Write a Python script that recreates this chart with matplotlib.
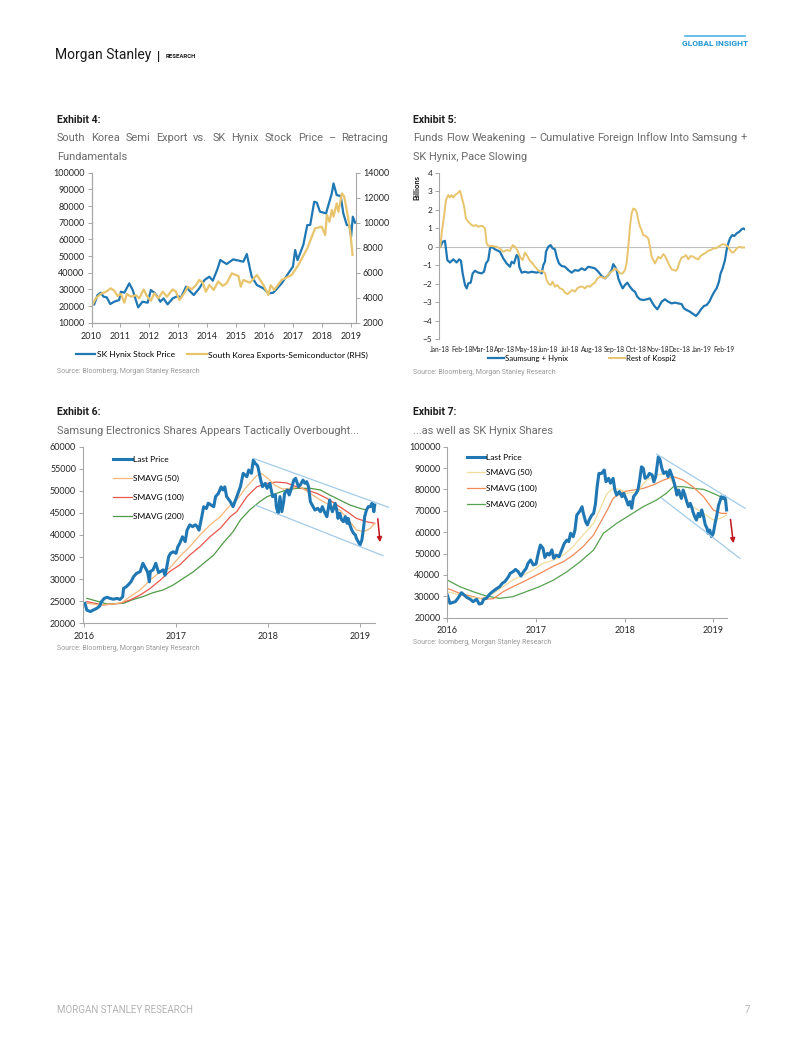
import numpy as np
import pandas as pd
import matplotlib.pyplot as plt
from matplotlib.lines import Line2D

W, H = 802, 1037

BLUE = '#1f77b4'
GOLD = '#e8c46c'
AXIS = '#a6a6a6'
TXT = '#262626'
CHAN = '#a3cbe8'
ARROW = '#c4161c'

# ---- Exhibit 4: SK Hynix price (LHS) vs Korea semi exports (RHS)
ex4_hynix = [(2010.00, 22600), (2010.09, 20800), (2010.21, 26600), (2010.32, 28000), (2010.42, 25600),
             (2010.53, 25200), (2010.65, 21200), (2010.79, 22600), (2010.96, 23600), (2011.02, 28600),
             (2011.14, 28000), (2011.31, 33600), (2011.43, 29600), (2011.52, 24600), (2011.62, 19200),
             (2011.77, 22600), (2011.95, 22000), (2012.06, 29600), (2012.18, 28000), (2012.29, 25600),
             (2012.39, 22600), (2012.50, 24600), (2012.64, 21000), (2012.82, 24600), (2012.99, 26000),
             (2013.11, 25200), (2013.28, 31600), (2013.40, 29200), (2013.55, 26600), (2013.74, 30600),
             (2013.92, 35600), (2014.09, 37600), (2014.21, 35200), (2014.38, 42600), (2014.47, 47600),
             (2014.69, 45200), (2014.92, 48000), (2015.27, 46600), (2015.39, 51200), (2015.56, 37600),
             (2015.74, 32600), (2015.97, 30600), (2016.14, 27600), (2016.31, 28000), (2016.60, 33600),
             (2016.83, 39600), (2016.99, 43600), (2017.07, 53600), (2017.15, 47600), (2017.35, 56600),
             (2017.49, 68600), (2017.59, 68600), (2017.73, 82600), (2017.82, 82000), (2017.93, 76600),
             (2018.14, 75600), (2018.34, 87600), (2018.40, 93600), (2018.51, 86600), (2018.65, 86000),
             (2018.74, 75600), (2018.86, 68600), (2018.95, 68600), (2019.01, 61600), (2019.07, 73600),
             (2019.15, 70000)]
ex4_semi = [(2010.00, 3280), (2010.15, 3950), (2010.32, 4300), (2010.50, 4480), (2010.67, 4750),
            (2010.79, 4560), (2010.90, 4140), (2011.02, 4300), (2011.14, 3600), (2011.23, 4300),
            (2011.37, 4080), (2011.54, 4200), (2011.66, 3950), (2011.81, 4670), (2011.92, 4140),
            (2012.06, 3760), (2012.18, 4350), (2012.32, 3950), (2012.47, 4480), (2012.62, 4080),
            (2012.82, 4670), (2012.93, 4480), (2013.05, 3820), (2013.22, 4350), (2013.34, 4880),
            (2013.48, 4670), (2013.63, 5020), (2013.74, 5420), (2013.86, 5200), (2013.97, 4480),
            (2014.09, 5020), (2014.24, 4620), (2014.40, 5300), (2014.55, 4950), (2014.69, 5150),
            (2014.87, 5950), (2015.10, 5740), (2015.18, 4880), (2015.27, 5420), (2015.50, 5200),
            (2015.74, 5820), (2015.97, 5000), (2016.14, 4216), (2016.22, 5000), (2016.34, 4620),
            (2016.60, 5420), (2016.95, 5820), (2017.18, 6620), (2017.49, 7950), (2017.76, 9550),
            (2017.99, 9680), (2018.11, 9020), (2018.17, 10620), (2018.26, 10080), (2018.34, 11020),
            (2018.40, 10480), (2018.51, 11550), (2018.57, 10880), (2018.69, 12350), (2018.77, 12100),
            (2018.88, 10750), (2018.98, 9280), (2019.06, 7420)]

# ---- Exhibit 5: cumulative foreign inflow, days since 1 Jan 2018, USD bn
ex5_samsung_hynix = [(0, 0.00), (3.3, 0.27), (6.5, 0.32), (9.8, -0.72), (13.5, -0.85), (18.2, -0.68),
                     (22.8, -0.85), (26.5, -0.68), (28.9, -0.76), (31.2, -1.44), (34.5, -2.07),
                     (36.8, -2.25), (39.1, -1.98), (42.4, -1.94), (45.2, -1.44), (48.4, -1.30),
                     (53.1, -1.40), (57.7, -1.44), (61.0, -1.35), (63.8, -0.90), (67.0, -0.72),
                     (69.4, -0.09), (71.7, 0.00), (76.4, -0.14), (83.3, -0.27), (88.0, -0.63),
                     (92.6, -0.90), (97.3, -1.08), (99.6, -0.81), (102.9, -0.90), (106.6, -0.45),
                     (108.9, -0.54), (110.3, -1.08), (113.6, -1.40), (118.2, -1.35), (122.9, -1.40),
                     (127.6, -1.35), (134.5, -1.40), (138.3, -1.35), (141.5, -1.44), (143.9, -0.99),
                     (146.2, -0.81), (147.6, -0.27), (150.8, 0.00), (154.1, 0.09), (156.9, -0.09),
                     (160.1, -0.14), (162.5, -0.54), (165.7, -0.90), (169.5, -1.04), (174.1, -1.08),
                     (178.8, -1.26), (183.4, -1.40), (188.1, -1.26), (192.7, -1.30), (197.4, -1.17),
                     (202.0, -1.26), (206.7, -1.08), (211.4, -1.12), (216.0, -1.17), (220.7, -1.35),
                     (225.3, -1.58), (230.0, -1.71), (234.6, -1.53), (239.3, -1.26), (241.6, -0.94),
                     (243.9, -1.08), (246.3, -1.26), (248.6, -1.71), (250.9, -1.94), (254.7, -2.25),
                     (257.9, -2.07), (261.2, -1.94), (264.9, -2.16), (268.6, -2.34), (271.9, -2.43),
                     (275.1, -2.70), (278.9, -2.84), (283.5, -2.88), (288.2, -2.84), (292.8, -2.79),
                     (296.6, -3.06), (299.8, -3.24), (303.1, -3.38), (305.9, -3.20), (309.1, -2.97),
                     (313.8, -2.84), (318.4, -2.97), (323.1, -3.06), (327.7, -3.02), (332.4, -3.06),
                     (337.1, -3.10), (340.3, -3.33), (344.1, -3.42), (348.7, -3.51), (353.4, -3.64),
                     (357.1, -3.74), (360.3, -3.60), (364.1, -3.38), (368.2, -3.20), (372.0, -3.15),
                     (375.7, -2.97), (379.0, -2.70), (382.7, -2.43), (385.9, -2.25), (389.2, -1.89),
                     (391.5, -1.44), (394.3, -1.17), (397.6, -0.72), (399.9, -0.18), (402.2, 0.18),
                     (404.6, 0.45), (407.8, 0.63), (410.6, 0.58), (413.9, 0.72), (417.6, 0.81),
                     (420.9, 0.94), (423.2, 0.99), (425.5, 0.94)]
ex5_rest_kospi2 = [(0, 0.00), (1.9, 0.72), (5.1, 1.62), (7.9, 2.52), (11.2, 2.79), (13.5, 2.66),
                   (15.8, 2.79), (18.2, 2.66), (20.5, 2.79), (23.7, 2.88), (27.5, 3.02), (29.8, 2.70),
                   (33.1, 2.20), (35.8, 1.53), (39.1, 1.35), (42.4, 1.22), (46.1, 1.12), (49.8, 1.17),
                   (53.1, 1.08), (56.3, 1.12), (59.1, 1.12), (62.4, 0.99), (64.7, 0.18), (67.0, 0.05),
                   (71.7, 0.04), (78.7, 0.00), (83.3, -0.09), (88.0, -0.27), (92.6, -0.18), (97.3, -0.22),
                   (101.0, 0.09), (104.3, 0.00), (107.5, -0.18), (111.3, -0.54), (115.0, -0.72),
                   (118.2, -0.32), (121.5, -0.50), (125.2, -0.76), (129.0, -0.90), (132.2, -1.08),
                   (135.5, -1.22), (139.2, -1.35), (142.9, -1.30), (146.2, -1.44), (148.5, -1.80),
                   (150.8, -1.98), (154.1, -2.07), (156.9, -1.89), (160.1, -2.16), (163.4, -2.07),
                   (167.1, -2.25), (170.9, -2.30), (174.1, -2.48), (177.8, -2.56), (181.1, -2.43),
                   (184.8, -2.34), (188.1, -2.43), (191.3, -2.25), (195.1, -2.16), (198.8, -2.16),
                   (202.0, -2.25), (205.3, -2.12), (209.0, -2.16), (212.8, -2.02), (216.0, -1.94),
                   (219.3, -1.71), (223.0, -1.62), (226.7, -1.66), (230.0, -1.71), (233.2, -1.58),
                   (237.0, -1.40), (240.7, -1.30), (243.9, -1.17), (247.2, -1.26), (250.9, -1.44),
                   (254.7, -1.44), (257.9, -1.26), (260.2, -0.90), (262.6, 0.00), (264.9, 1.08),
                   (267.2, 1.80), (269.6, 2.07), (271.9, 2.02), (274.2, 1.89), (276.5, 1.44),
                   (278.9, 1.08), (281.2, 0.90), (283.5, 0.63), (286.8, 0.58), (290.5, 0.45),
                   (292.8, 0.00), (295.2, -0.54), (297.5, -0.72), (299.8, -0.90), (302.1, -0.72),
                   (304.5, -0.54), (307.7, -0.63), (311.5, -0.40), (313.8, -0.50), (316.1, -0.68),
                   (319.8, -0.99), (323.1, -1.22), (326.4, -1.26), (329.1, -1.30), (331.5, -1.17),
                   (333.8, -0.86), (337.1, -0.58), (340.3, -0.54), (343.1, -0.45), (346.4, -0.68),
                   (349.6, -0.50), (353.4, -0.54), (357.1, -0.63), (360.3, -0.68), (363.6, -0.50),
                   (367.3, -0.40), (371.0, -0.32), (374.3, -0.22), (377.6, -0.18), (381.3, -0.09),
                   (385.0, -0.09), (388.3, 0.00), (392.0, 0.09), (395.3, 0.14), (399.0, 0.09),
                   (402.2, 0.00), (404.6, -0.18), (407.8, -0.32), (410.6, -0.27), (413.9, -0.09),
                   (417.6, 0.00), (420.9, -0.04), (425.5, -0.04)]

# ---- Exhibit 6: Samsung Electronics
ex6_price = [(2016.01, 24500), (2016.03, 23000), (2016.07, 22650), (2016.10, 23000), (2016.14, 23400),
             (2016.17, 23900), (2016.19, 24900), (2016.22, 25650), (2016.25, 25900), (2016.28, 25650),
             (2016.32, 25450), (2016.36, 25650), (2016.39, 25400), (2016.42, 26000), (2016.43, 27900),
             (2016.46, 28300), (2016.48, 28700), (2016.51, 29400), (2016.54, 30600), (2016.57, 31300),
             (2016.61, 31700), (2016.64, 33600), (2016.66, 32800), (2016.69, 31700), (2016.71, 29400),
             (2016.72, 31700), (2016.75, 32100), (2016.78, 33600), (2016.81, 31500), (2016.83, 31700),
             (2016.86, 32100), (2016.88, 30900), (2016.90, 32800), (2016.92, 35100), (2016.94, 35850),
             (2016.97, 36200), (2017.00, 35850), (2017.02, 37350), (2017.04, 38100), (2017.07, 39600),
             (2017.10, 38500), (2017.12, 41100), (2017.15, 42300), (2017.18, 41900), (2017.21, 42300),
             (2017.23, 41900), (2017.25, 41100), (2017.28, 44150), (2017.30, 46400), (2017.33, 46000),
             (2017.35, 47200), (2017.38, 46800), (2017.41, 46400), (2017.43, 48700), (2017.46, 49400),
             (2017.49, 50900), (2017.51, 50200), (2017.53, 50900), (2017.55, 48700), (2017.59, 47550),
             (2017.62, 46420), (2017.66, 48680), (2017.70, 50940), (2017.73, 53960), (2017.77, 53210),
             (2017.79, 54720), (2017.82, 53960), (2017.84, 56980), (2017.86, 56230), (2017.88, 55850),
             (2017.89, 55470), (2017.92, 52450), (2017.94, 50940), (2017.97, 51700), (2017.99, 50570),
             (2018.02, 51700), (2018.05, 48680), (2018.08, 49060), (2018.09, 46420), (2018.11, 44910),
             (2018.13, 48680), (2018.15, 45280), (2018.17, 47550), (2018.18, 49430), (2018.21, 50190),
             (2018.23, 49060), (2018.26, 50940), (2018.28, 52450), (2018.30, 52830), (2018.33, 50940),
             (2018.35, 51320), (2018.38, 52450), (2018.40, 51700), (2018.42, 52080), (2018.44, 50940),
             (2018.46, 47550), (2018.49, 46420), (2018.51, 45660), (2018.54, 46040), (2018.57, 45280),
             (2018.59, 46420), (2018.62, 44910), (2018.64, 44150), (2018.67, 47920), (2018.68, 46420),
             (2018.70, 45280), (2018.73, 47170), (2018.75, 45280), (2018.76, 43770), (2018.78, 44910),
             (2018.80, 43400), (2018.82, 43020), (2018.84, 44150), (2018.86, 42640), (2018.87, 43770),
             (2018.89, 42260), (2018.91, 41130), (2018.93, 40380), (2018.95, 40000), (2018.96, 39250),
             (2018.98, 38490), (2019.00, 37740), (2019.02, 38870), (2019.04, 41890), (2019.05, 44150),
             (2019.07, 45660), (2019.09, 46420), (2019.11, 46420), (2019.13, 47170), (2019.14, 46420),
             (2019.15, 45280), (2019.16, 46790)]
ex6_sma50 = [(2016.03, 24530), (2016.17, 24150), (2016.32, 24380), (2016.41, 24680), (2016.50, 26040),
             (2016.61, 27550), (2016.72, 29810), (2016.83, 31700), (2016.93, 32450), (2017.04, 35090),
             (2017.15, 37360), (2017.26, 40000), (2017.37, 42260), (2017.48, 44150), (2017.59, 46790),
             (2017.66, 47920), (2017.77, 51000), (2017.88, 53500), (2017.93, 53900), (2018.00, 52800),
             (2018.08, 51200), (2018.16, 50400), (2018.25, 50600), (2018.35, 50900), (2018.46, 49400),
             (2018.57, 47900), (2018.67, 46800), (2018.78, 45660), (2018.89, 43000), (2018.96, 41130),
             (2019.04, 40750), (2019.11, 41500), (2019.16, 42640)]
ex6_sma100 = [(2016.03, 24910), (2016.21, 24150), (2016.39, 24530), (2016.50, 25280), (2016.61, 26400),
              (2016.72, 27920), (2016.83, 29810), (2016.93, 31700), (2017.04, 33210), (2017.15, 35470),
              (2017.26, 37360), (2017.37, 39620), (2017.48, 41510), (2017.59, 44150), (2017.66, 45280),
              (2017.77, 48680), (2017.88, 50940), (2017.99, 51700), (2018.09, 52000), (2018.20, 51800),
              (2018.31, 50940), (2018.42, 50190), (2018.53, 49430), (2018.64, 48300), (2018.75, 46800),
              (2018.86, 45280), (2018.96, 43770), (2019.07, 43020), (2019.16, 42640)]
ex6_sma200 = [(2016.03, 25660), (2016.25, 24380), (2016.43, 24530), (2016.54, 25430), (2016.64, 26040),
              (2016.75, 26940), (2016.86, 27550), (2016.97, 28680), (2017.08, 30190), (2017.19, 31700),
              (2017.30, 33580), (2017.41, 35470), (2017.51, 38110), (2017.62, 40750), (2017.70, 43400),
              (2017.80, 45660), (2017.91, 47550), (2017.99, 48680), (2018.09, 49430), (2018.20, 50190),
              (2018.31, 50570), (2018.46, 50570), (2018.57, 50190), (2018.67, 49060), (2018.78, 47920),
              (2018.89, 46790), (2019.00, 46040), (2019.07, 45660)]
ex6_upper_channel = [(2017.84, 57360), (2019.31, 46270)]
ex6_lower_channel = [(2017.86, 46790), (2019.25, 35320)]
ex6_arrow = [(2019.19, 44300), (2019.22, 37740)]

# ---- Exhibit 7: SK Hynix
ex7_price = [(2016.00, 30600), (2016.03, 26700), (2016.09, 27500), (2016.12, 29100), (2016.16, 31700),
             (2016.19, 30600), (2016.22, 29500), (2016.26, 28600), (2016.29, 27500), (2016.33, 28600),
             (2016.36, 26400), (2016.39, 26700), (2016.41, 28600), (2016.44, 29100), (2016.48, 31100),
             (2016.51, 32200), (2016.56, 33700), (2016.59, 34500), (2016.62, 36100), (2016.65, 36900),
             (2016.69, 39200), (2016.71, 40800), (2016.74, 41500), (2016.77, 42600), (2016.80, 41500),
             (2016.83, 39500), (2016.86, 41500), (2016.89, 43100), (2016.91, 45400), (2016.94, 47000),
             (2016.97, 44700), (2017.00, 45100), (2017.03, 50900), (2017.05, 54000), (2017.08, 52400),
             (2017.10, 48200), (2017.13, 50100), (2017.15, 49300), (2017.18, 51700), (2017.20, 47800),
             (2017.23, 49300), (2017.26, 48500), (2017.29, 51700), (2017.32, 54800), (2017.35, 56300),
             (2017.37, 55600), (2017.39, 59500), (2017.42, 57900), (2017.44, 61000), (2017.46, 68000),
             (2017.49, 69600), (2017.52, 71900), (2017.53, 69600), (2017.56, 64900), (2017.58, 63400),
             (2017.60, 65700), (2017.63, 68000), (2017.65, 68800), (2017.67, 73000), (2017.69, 81300),
             (2017.71, 87500), (2017.74, 87500), (2017.77, 89100), (2017.79, 83600), (2017.82, 85200),
             (2017.84, 82900), (2017.87, 85200), (2017.89, 79700), (2017.91, 77400), (2017.94, 79000),
             (2017.97, 76600), (2017.99, 78200), (2018.02, 75100), (2018.04, 72700), (2018.06, 74300),
             (2018.08, 71200), (2018.10, 76600), (2018.13, 78200), (2018.15, 79700), (2018.17, 84400),
             (2018.19, 90600), (2018.21, 89900), (2018.23, 85200), (2018.26, 86000), (2018.28, 87500),
             (2018.31, 86800), (2018.33, 83600), (2018.35, 86000), (2018.38, 95300), (2018.40, 93800),
             (2018.42, 89900), (2018.44, 87500), (2018.47, 88300), (2018.49, 86000), (2018.51, 89100),
             (2018.53, 86800), (2018.55, 84400), (2018.57, 81300), (2018.59, 77400), (2018.61, 79700),
             (2018.62, 78200), (2018.64, 75800), (2018.66, 79700), (2018.68, 77400), (2018.70, 74300),
             (2018.72, 71900), (2018.74, 73500), (2018.76, 71200), (2018.77, 69600), (2018.79, 67300),
             (2018.81, 65700), (2018.83, 68800), (2018.85, 67300), (2018.87, 70400), (2018.89, 67300),
             (2018.91, 63400), (2018.93, 61800), (2018.94, 59500), (2018.96, 61000), (2018.98, 57900),
             (2019.00, 59500), (2019.02, 64100), (2019.04, 68000), (2019.06, 72700), (2019.08, 75100),
             (2019.09, 76600), (2019.11, 75800), (2019.13, 76600), (2019.14, 74300), (2019.15, 70400)]
ex7_sma50 = [(2016.00, 32180), (2016.22, 29840), (2016.37, 29060), (2016.44, 29840), (2016.52, 31400),
             (2016.63, 34520), (2016.74, 37640), (2016.86, 40000), (2016.97, 42320), (2017.08, 45440),
             (2017.20, 46990), (2017.31, 49330), (2017.42, 53230), (2017.53, 58690), (2017.65, 64140),
             (2017.72, 70500), (2017.80, 78000), (2017.87, 80500), (2017.95, 80000), (2018.02, 78200),
             (2018.14, 78950), (2018.25, 84410), (2018.36, 86750), (2018.47, 87530), (2018.55, 82850),
             (2018.66, 76620), (2018.77, 71940), (2018.89, 68820), (2019.00, 65700), (2019.08, 66480),
             (2019.15, 68040)]
ex7_sma100 = [(2016.00, 33740), (2016.14, 31400), (2016.29, 29840), (2016.41, 28600), (2016.52, 28900),
              (2016.63, 32180), (2016.74, 34520), (2016.86, 36860), (2016.97, 39200), (2017.08, 41540),
              (2017.20, 44190), (2017.31, 46220), (2017.42, 49330), (2017.53, 53230), (2017.65, 58690),
              (2017.72, 64000), (2017.80, 70000), (2017.87, 75840), (2017.98, 78950), (2018.10, 79730),
              (2018.21, 80510), (2018.32, 82070), (2018.44, 84410), (2018.55, 85970), (2018.66, 84410),
              (2018.77, 81290), (2018.89, 76620), (2019.00, 70380), (2019.09, 68820), (2019.15, 68820)]
ex7_sma200 = [(2016.00, 37640), (2016.14, 34520), (2016.29, 32180), (2016.44, 30150), (2016.59, 29060),
              (2016.74, 29840), (2016.89, 32180), (2017.04, 34520), (2017.20, 37640), (2017.35, 41540),
              (2017.50, 46220), (2017.65, 51670), (2017.76, 59470), (2017.91, 64140), (2018.06, 68040),
              (2018.21, 71940), (2018.36, 75060), (2018.47, 78170), (2018.55, 81290), (2018.66, 81290),
              (2018.77, 80510), (2018.89, 80040), (2019.00, 78170), (2019.08, 76620), (2019.15, 75060)]
ex7_upper_channel = [(2018.36, 96570), (2019.36, 71160)]
ex7_lower_channel = [(2018.42, 75840), (2019.30, 47770)]
ex7_arrow = [(2019.19, 67260), (2019.23, 53540)]

CHART_FONT = ['Lato', 'DejaVu Sans']
HEAD_FONT = ['Roboto', 'DejaVu Sans']
plt.rcParams['font.family'] = CHART_FONT

fig = plt.figure(figsize=(W / 100, H / 100), dpi=100)


def px_axes(left, top, right, bottom):
    return fig.add_axes([left / W, 1 - bottom / H, (right - left) / W, (bottom - top) / H])


def ptext(x, y, s, **kw):
    kw.setdefault('va', 'center')
    return fig.text(x / W, 1 - y / H, s, **kw)


def justify(x0, x1, y, s, **kw):
    words = s.split(' ')
    arts = [ptext(x0, y, w, **kw) for w in words]
    r = fig.canvas.get_renderer()
    widths = [a.get_window_extent(r).width for a in arts]
    gap = (x1 - x0 - sum(widths)) / (len(words) - 1)
    x = x0
    for a, w in zip(arts, widths):
        a.set_x(x / W)
        x += w + gap


def xy(pairs):
    return [p[0] for p in pairs], [p[1] for p in pairs]


def style(ax, sides, size=6.5):
    for s in ['top', 'right', 'left', 'bottom']:
        ax.spines[s].set_visible(s in sides)
        ax.spines[s].set_color(AXIS)
        ax.spines[s].set_linewidth(0.8)
    ax.tick_params(labelsize=size, length=3, width=0.7, color=AXIS, labelcolor=TXT, pad=2)


# header / footer
ptext(55, 55, 'Morgan Stanley', fontsize=10, family=HEAD_FONT, color='#1a1a1a')
ptext(157, 56, '|', fontsize=9, family=HEAD_FONT, color='#1a1a1a', weight='bold')
ptext(166, 56, 'RESEARCH', fontsize=4.3, family=HEAD_FONT, color='#1a1a1a', weight='bold')
fig.add_artist(Line2D([685 / W, 745 / W], [1 - 36 / H] * 2, color='#4fb3e3', lw=1.2))
ptext(715, 43, 'GLOBAL INSIGHT', ha='center', fontsize=6, family=HEAD_FONT, color='#1b95d3', weight='bold')
ptext(57, 1010, 'MORGAN STANLEY RESEARCH', fontsize=7, family=HEAD_FONT, color='#b3b3b3')
ptext(745, 1010, '7', fontsize=7, family=HEAD_FONT, color='#b3b3b3')

TITLE = dict(fontsize=7.6, family=HEAD_FONT, weight='bold', color='#1e1e1e')
SUB = dict(fontsize=7.9, family=HEAD_FONT, color='#6b6b6b')
SRC = dict(fontsize=5, family=HEAD_FONT, color='#9a9a9a')

ptext(57, 120, 'Exhibit 4:', **TITLE)
justify(57, 388, 138, 'South Korea Semi Export vs. SK Hynix Stock Price \u2013 Retracing', **SUB)
ptext(57, 157, 'Fundamentals', **SUB)
ptext(413, 120, 'Exhibit 5:', **TITLE)
justify(413, 747, 138, 'Funds Flow Weakening \u2013 Cumulative Foreign Inflow Into Samsung +', **SUB)
ptext(413, 157, 'SK Hynix, Pace Slowing', **SUB)
ptext(57, 412, 'Exhibit 6:', **TITLE)
ptext(57, 431, 'Samsung Electronics Shares Appears Tactically Overbought...', **SUB)
ptext(413, 412, 'Exhibit 7:', **TITLE)
ptext(413, 431, '...as well as SK Hynix Shares', **SUB)
ptext(57, 371, 'Source: Bloomberg, Morgan Stanley Research', **SRC)
ptext(413, 373, 'Source: Bloomberg, Morgan Stanley Research', **SRC)
ptext(57, 649, 'Source: Bloomberg, Morgan Stanley Research', **SRC)
ptext(413, 643, 'Source: loomberg, Morgan Stanley Research', **SRC)

# ---- Exhibit 4
ax4 = px_axes(91.5, 172.7, 356, 322.7)
x, y = xy(ex4_hynix)
ax4.plot(x, y, color=BLUE, lw=1.6)
ax4.set_xlim(2010, 2019.18)
ax4.set_ylim(10000, 100000)
ax4.set_yticks(range(10000, 100001, 10000))
ax4.set_xticks(range(2010, 2020))
style(ax4, ['left', 'bottom'])
ax4r = ax4.twinx()
x, y = xy(ex4_semi)
ax4r.plot(x, y, color=GOLD, lw=1.6)
ax4r.set_ylim(2000, 14000)
ax4r.set_yticks(range(2000, 14001, 2000))
style(ax4r, ['left', 'bottom', 'right'])
ax4.tick_params(axis='x', pad=4)
fig.legend([Line2D([], [], color=BLUE, lw=1.6), Line2D([], [], color=GOLD, lw=1.6)],
           ['SK Hynix Stock Price', 'South Korea Exports-Semiconductor (RHS)'],
           loc='center', bbox_to_anchor=(222 / W, 1 - 355 / H), ncol=2, frameon=False,
           fontsize=6.1, handlelength=2.3, handletextpad=0.2, columnspacing=1.4)

# ---- Exhibit 5
ax5 = px_axes(439.3, 172.7, 745.3, 339.3)
ax5.axhline(0, color='#bfbfbf', lw=0.8, zorder=1)
x, y = xy(ex5_samsung_hynix)
ax5.plot(x, y, color=BLUE, lw=1.6)
x, y = xy(ex5_rest_kospi2)
ax5.plot(x, y, color=GOLD, lw=1.4)
ax5.set_xlim(-1.4, 426)
ax5.set_ylim(-5, 4)
ax5.set_yticks(range(-5, 5))
months = pd.date_range('2018-01-01', '2019-02-01', freq='MS')
ax5.set_xticks([(m - months[0]).days for m in months])
ax5.set_xticklabels([m.strftime('%b-%y') for m in months])
style(ax5, ['left'], size=6)
ax5.tick_params(axis='x', labelsize=4.8, length=0, pad=5)
ptext(417, 188, 'Billions', rotation=90, ha='center', fontsize=5.5, weight='bold', color='#111111')
fig.legend([Line2D([], [], color=BLUE, lw=1.6), Line2D([], [], color=GOLD, lw=1.4)],
           ['Saumsung + Hynix', 'Rest of Kospi2'],
           loc='center', bbox_to_anchor=(582 / W, 1 - 358 / H), ncol=2, frameon=False,
           fontsize=5.6, handlelength=2.0, handletextpad=0.15, columnspacing=5.3)


def ma_chart(ax, price, s50, s100, s200, up, low, arrow, cols, xmax, ymin, ymax, ystep):
    for data, c in zip([s200, s100, s50], cols[::-1]):
        x, y = xy(data)
        ax.plot(x, y, color=c, lw=0.9)
    x, y = xy(price)
    ax.plot(x, y, color=BLUE, lw=2.2)
    for ch in [up, low]:
        x, y = xy(ch)
        ax.plot(x, y, color=CHAN, lw=0.9)
    ax.annotate('', xy=arrow[1], xytext=arrow[0],
                arrowprops=dict(arrowstyle='-|>', color=ARROW, lw=1.1, mutation_scale=7))
    ax.set_xlim(2015.99, xmax)
    ax.set_ylim(ymin, ymax)
    ax.set_yticks(range(ymin, ymax + 1, ystep))
    ax.set_xticks([2016, 2017, 2018, 2019])
    style(ax, ['left', 'bottom'])
    ax.spines['bottom'].set_bounds(2015.99, price[-1][0])
    ax.tick_params(axis='x', pad=3)
    handles = [Line2D([], [], color=BLUE, lw=2.2)] + [Line2D([], [], color=c, lw=0.9) for c in cols]
    return handles


LABELS = ['Last Price', 'SMAVG (50)', 'SMAVG (100)', 'SMAVG (200)']

# ---- Exhibit 6
ax6 = px_axes(83.1, 446.7, 390.4, 623.3)
h = ma_chart(ax6, ex6_price, ex6_sma50, ex6_sma100, ex6_sma200, ex6_upper_channel, ex6_lower_channel,
             ex6_arrow, ['#f4b77a', '#e8584b', '#4f9b47'], 2019.33, 20000, 60000, 5000)
ax6.legend(h, LABELS, loc='upper left', bbox_to_anchor=(113 / W, 1 - 455.5 / H),
           bbox_transform=fig.transFigure, frameon=False, fontsize=6, handlelength=2.3,
           handletextpad=0.1, labelspacing=1.45, borderpad=0, borderaxespad=0)

# ---- Exhibit 7
ax7 = px_axes(447.3, 446.7, 746.1, 617.7)
h = ma_chart(ax7, ex7_price, ex7_sma50, ex7_sma100, ex7_sma200, ex7_upper_channel, ex7_lower_channel,
             ex7_arrow, ['#f3dc9c', '#f08a57', '#56a24f'], 2019.37, 20000, 100000, 10000)
ax7.set_xlim(2016.0, 2019.37)
ax7.legend(h, LABELS, loc='upper left', bbox_to_anchor=(466.7 / W, 1 - 453.5 / H),
           bbox_transform=fig.transFigure, frameon=False, fontsize=6, handlelength=2.2,
           handletextpad=0.1, labelspacing=1.05, borderpad=0, borderaxespad=0)

fig.savefig('out.png', dpi=100)
